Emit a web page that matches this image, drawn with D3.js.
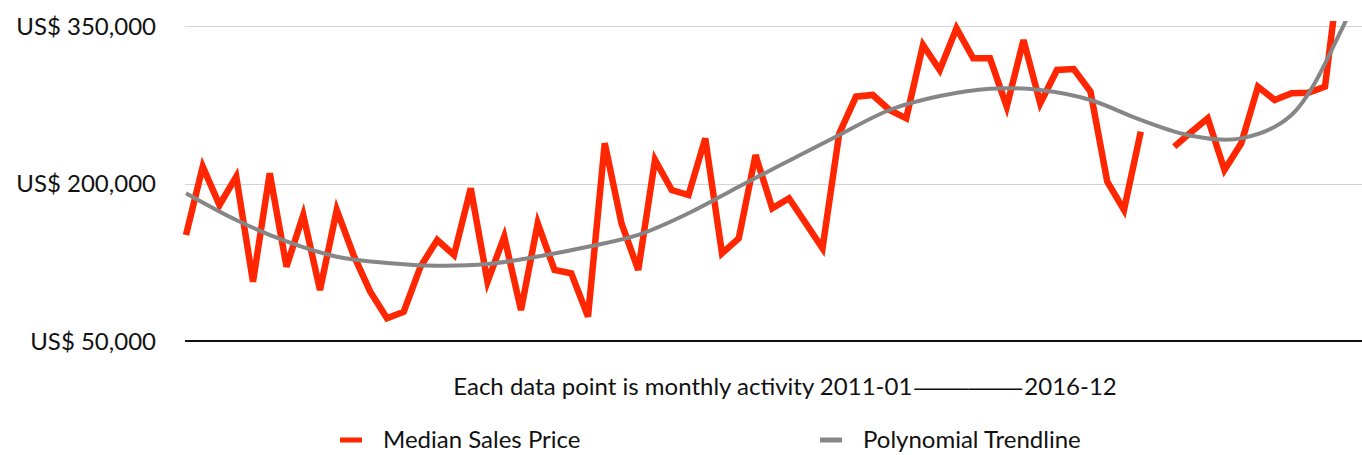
<html>
<head>
<meta charset="utf-8">
<script src="https://cdn.jsdelivr.net/npm/d3@7"></script>
<style>
body{
	margin: 0;
	background: #fff;
}
.axis-label {
  font: 24px Lato, "Open Sans", sans-serif;
  fill: #111;
}
.dash {
  font-family: "Liberation Sans", Arial, sans-serif;
}
.grid {
  stroke: #d4d4d4;
  stroke-width: 1;
  shape-rendering: crispEdges;
}
.baseline {
  stroke: #111;
  stroke-width: 2;
}
.price {
  fill: none;
  stroke: #ff2600;
  stroke-width: 6.5;
  stroke-linejoin: miter;
  stroke-miterlimit: 4;
}
.trend {
  fill: none;
  stroke: #868686;
  stroke-width: 4;
}
</style>
</head>
<body>
<div id="chart"></div>
<script>
// monthly median sales price, 2011-01 .. 2016-12 (null = no data)
var months = d3.range(72);
var medianPrice = [
	151000, 216000, 179500, 206500, 106500, 209700, 120800, 170000, 98600, 174800,
	131900, 97000, 71600, 77900, 120800, 146200, 131900, 195400, 106500, 149400,
	79500, 162100, 117600, 114400, 73200, 238300, 162100, 117600, 222400, 193800,
	189000, 243000, 133500, 147800, 227100, 176400, 185900, 162100, 138300, 247800,
	282700, 284300, 270000, 262100, 331900, 308100, 347800, 319200, 319200, 273200,
	336700, 276400, 308100, 309000, 287500, 201800, 174800, 249400, null, 235100,
	248800, 262100, 212900, 238300, 292200, 279500, 285900, 286500, 292200, 420000,
	400000, 430000
];
// polynomial trendline read at every third month
var trendMonths = [0, 3, 6, 9, 12, 15, 18, 21, 24, 27, 30, 33, 36, 39, 42, 45, 48, 51, 54, 57, 60, 63, 66, 69, 70, 71];
var trendValues = [
	190700, 165200, 144800, 130300, 124300, 121700, 123300, 130500, 139800, 151000,
	171600, 197000, 221700, 246200, 270000, 283300, 290300, 289000, 279500, 260500,
	245500, 243000, 265200, 346900, 385000, 430000
];
var yTicks = [50000, 200000, 350000];
var titleParts = ["Each data point is monthly activity 2011-01", "\u2014\u2014", "2016-12"];
var legendLabels = ["Median Sales Price", "Polynomial Trendline"];

var width = 1362, height = 455;

var svg = d3.select("#chart")
	.append("svg")
		.attr("width", width)
		.attr("height", height);

var x = d3.scaleLinear().domain([0, 71]).range([186, 186 + 71 * 16.75]);
var y = d3.scaleLinear().domain([50000, 350000]).range([341, 26]);

svg.append("clipPath")
	.attr("id", "plot-clip")
	.append("rect")
		.attr("x", 170)
		.attr("y", 21)
		.attr("width", width - 170)
		.attr("height", 330);

// gridlines
svg.selectAll("line.grid")
	.data(yTicks.slice(1))
	.enter().append("line")
		.attr("class", "grid")
		.attr("x1", 185)
		.attr("x2", width)
		.attr("y1", function(d) { return Math.round(y(d)) + 0.5; })
		.attr("y2", function(d) { return Math.round(y(d)) + 0.5; });

svg.append("line")
	.attr("class", "baseline")
	.attr("x1", 185)
	.attr("x2", width)
	.attr("y1", y(50000))
	.attr("y2", y(50000));

// y axis labels
var yAxis = d3.axisLeft(y)
	.tickValues(yTicks)
	.tickSize(0)
	.tickPadding(0)
	.tickFormat(function(d) { return "US$ " + d3.format(",")(d); });

var yg = svg.append("g")
	.attr("transform", "translate(156,0)")
	.call(yAxis);
yg.select(".domain").remove();
yg.selectAll("text")
	.attr("class", "axis-label")
	.attr("font-family", null)
	.attr("font-size", null)
	.attr("fill", null)
	.attr("dy", "0.35em");

var plot = svg.append("g").attr("clip-path", "url(#plot-clip)");

var priceLine = d3.line()
	.defined(function(d) { return d != null; })
	.x(function(d, i) { return x(months[i]); })
	.y(function(d) { return y(d); });

plot.append("path")
	.attr("class", "price")
	.attr("d", priceLine(medianPrice));

var trendLine = d3.line()
	.curve(d3.curveCatmullRom)
	.x(function(d, i) { return x(trendMonths[i]); })
	.y(function(d) { return y(d); });

plot.append("path")
	.attr("class", "trend")
	.attr("d", trendLine(trendValues));

// title, the long dash is stretched like the original
var dashWidth = 108;
var titleG = svg.append("g");
var parts = titleG.selectAll("text")
	.data(titleParts)
	.enter().append("text")
		.attr("class", function(d, i) { return i == 1 ? "axis-label dash" : "axis-label"; })
		.text(function(d) { return d; });
var w = [];
parts.each(function() { w.push(this.getComputedTextLength()); });
var dashScale = dashWidth / w[1];
var total = w[0] + dashWidth + w[2] + 4;
var tx = 785 - total / 2;
parts.attr("transform", function(d, i) {
	if (i == 0) return "translate(" + tx + ",395)";
	if (i == 1) return "translate(" + (tx + w[0] + 2) + ",395) scale(" + dashScale + ",1)";
	return "translate(" + (tx + w[0] + dashWidth + 4) + ",395)";
});

// legend
var legend = svg.selectAll("g.legend")
	.data(legendLabels)
	.enter().append("g")
		.attr("class", "legend")
		.attr("transform", function(d, i) { return "translate(" + (i ? 820 : 340) + ",440)"; });

legend.append("line")
	.attr("x1", 0)
	.attr("x2", 22)
	.attr("stroke", function(d, i) { return i ? "#868686" : "#ff2600"; })
	.attr("stroke-width", 5);

legend.append("text")
	.attr("class", "axis-label")
	.attr("x", 43)
	.attr("y", 8)
	.text(function(d) { return d; });
</script>
</body>
</html>
